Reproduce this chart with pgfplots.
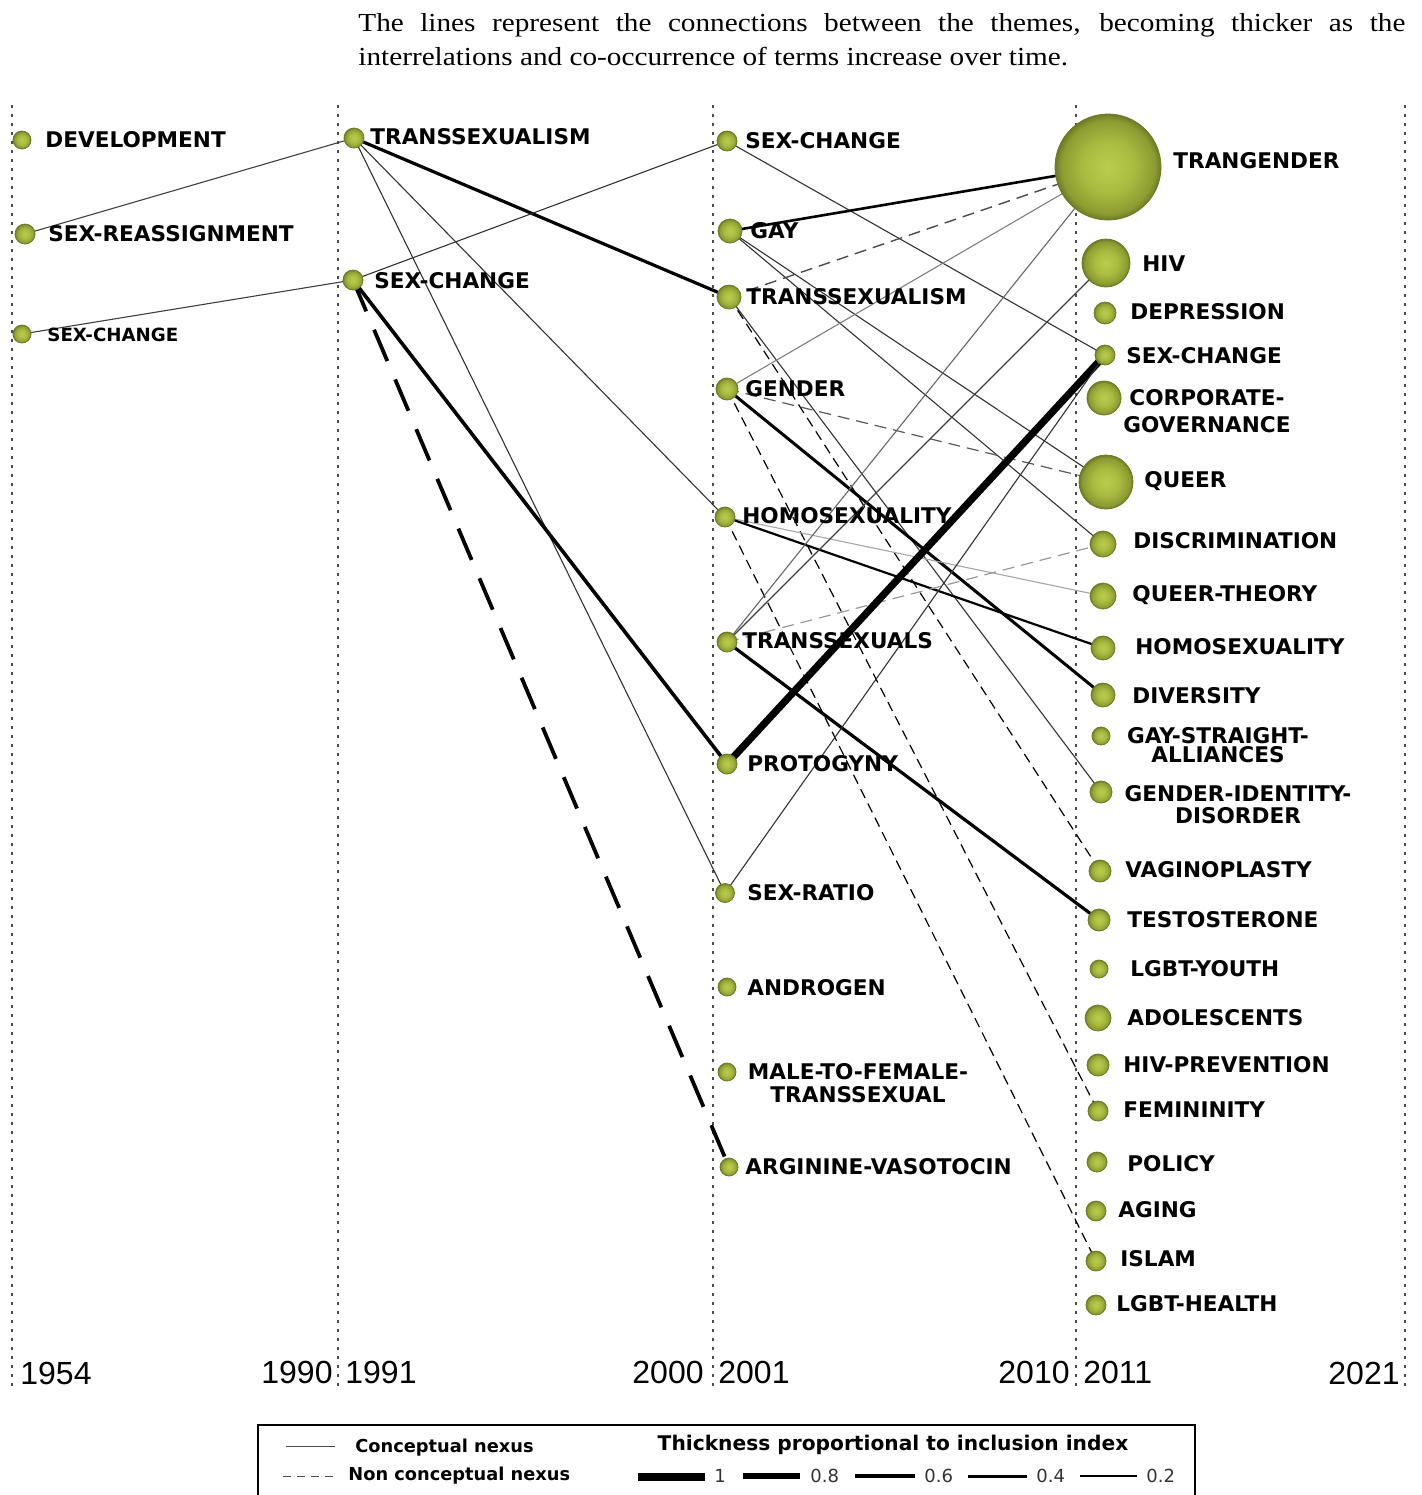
\documentclass[border=0pt]{standalone}
\usepackage{pgfplots}
\pgfplotsset{compat=1.18}
\usepackage{fontspec}
\setmainfont{Liberation Serif}
\newfontfamily\capfont[FakeStretch=1.125]{Liberation Serif}
\newfontfamily\lab{DejaVu Sans}
\newfontfamily\yr{Liberation Sans}

\definecolor{olc}{HTML}{BACD4E}
\definecolor{olm}{HTML}{A9BC41}
\definecolor{old}{HTML}{8C9C31}
\definecolor{ole}{HTML}{6E7A26}

\pgfdeclareradialshading{oliveball}{\pgfpoint{0bp}{0bp}}{color(0bp)=(olc); color(12bp)=(olm); color(22bp)=(old); color(25bp)=(ole); color(50bp)=(ole)}

\pgfdeclareplotmark{oball}{%
  \pgfpathcircle{\pgfpointorigin}{\pgfplotmarksize}%
  \pgfshadepath{oliveball}{0}%
  \pgfusepath{discard}%
  \pgfpathcircle{\pgfpointorigin}{\pgfplotmarksize}%
  \pgfusepath{stroke}}

\tikzset{
  thin1/.style={line width=0.55pt, color=black!80},
  dsh/.style={line width=0.6pt, dash pattern=on 5pt off 3pt},
  dot/.style={line width=1.3pt, color=black!70, dash pattern=on 1.3pt off 3.2pt},
  lbl/.style={anchor=west, inner sep=0pt, font=\lab\bfseries\fontsize{10.8}{13}\selectfont},
  yrl/.style={inner sep=0pt, font=\yr\fontsize{16}{16}\selectfont},
}

\pgfplotstableread{
x y r
22 140 9
25 234 10
22 334 9
354 138 10
353 280 10
727 141 10
730 231 12
729 297 12
727 389 11
725 517 10
727 642 10
727 764 10
725 893 9.5
727 987 9
727 1072 9
729 1167 9
1108 167 53
1106 263 24
1105 313 11
1105 355 10
1104 398 17
1106 482 27
1103 544 13
1103 596 13
1103 648 12
1103 695 12
1101 736 9
1101 792 11
1100 871 11
1099 920 11
1099 969 9
1098 1018 13
1098 1065 11
1098 1111 10
1097 1162 10
1096 1211 10
1096 1261 10
1096 1305 10
}\nodestable

\begin{document}
\begin{tikzpicture}
\begin{axis}[name=ax, at={(0,0)}, anchor=south west,
  width=710.5pt, height=747.5pt, scale only axis,
  xmin=0, xmax=1421, ymin=0, ymax=1495, y dir=reverse,
  hide axis, clip=false]

% period separators
\draw[dot] (axis cs:12,105) -- (axis cs:12,1390);
\draw[dot] (axis cs:338,105) -- (axis cs:338,1390);
\draw[dot] (axis cs:713,105) -- (axis cs:713,1390);
\draw[dot] (axis cs:1076,105) -- (axis cs:1076,1390);
\draw[dot] (axis cs:1405,105) -- (axis cs:1405,1390);

% 1954-1990 -> 1991-2000
\addplot[thin1, black!75] coordinates {(25,234) (354,138)};
\addplot[thin1, black!75] coordinates {(22,334) (353,280)};
% 1991-2000 -> 2001-2010
\addplot[line width=1.6pt, black] coordinates {(354,138) (729,297)};
\addplot[thin1] coordinates {(354,138) (725,517)};
\addplot[thin1] coordinates {(354,138) (725,893)};
\addplot[thin1] coordinates {(353,280) (727,141)};
\addplot[line width=1.8pt, black] coordinates {(353,280) (727,764)};
\addplot[line width=1.9pt, black, dash pattern=on 17pt off 10pt] coordinates {(353,280) (729,1167)};
% 2001-2010 -> 2011-2021
\addplot[thin1] coordinates {(727,141) (1105,355)};
\addplot[line width=1.3pt, black] coordinates {(730,231) (1108,167)};
\addplot[thin1] coordinates {(730,231) (1106,482)};
\addplot[thin1] coordinates {(730,231) (1103,544)};
\addplot[dsh, black!70, line width=0.7pt, dash pattern=on 6pt off 3.5pt] coordinates {(729,297) (1108,167)};
\addplot[thin1] coordinates {(729,297) (1101,792)};
\addplot[dsh, black] coordinates {(729,297) (1100,871)};
\addplot[thin1, black!50] coordinates {(727,389) (1108,167)};
\addplot[dsh, black!65, dash pattern=on 6pt off 3.5pt] coordinates {(727,389) (1106,482)};
\addplot[line width=1.5pt, black] coordinates {(727,389) (1103,695)};
\addplot[dsh, black] coordinates {(727,389) (1098,1111)};
\addplot[thin1, black!35] coordinates {(725,517) (1103,596)};
\addplot[line width=1.1pt, black] coordinates {(725,517) (1103,648)};
\addplot[dsh, black] coordinates {(725,517) (1096,1261)};
\addplot[thin1, black!60] coordinates {(727,642) (1108,167)};
\addplot[thin1, black!75] coordinates {(727,642) (1106,263)};
\addplot[dsh, black!40, dash pattern=on 6pt off 3.5pt] coordinates {(727,642) (1103,544)};
\addplot[line width=1.6pt, black] coordinates {(727,642) (1099,920)};
\addplot[line width=3.6pt, black] coordinates {(727,764) (1105,355)};
\addplot[thin1] coordinates {(725,893) (1105,355)};

% theme nodes
\addplot[only marks, scatter, mark=oball,
  scatter/use mapped color={draw=ole},
  visualization depends on={0.5*\thisrow{r} \as \rad},
  scatter/@pre marker code/.append style={/tikz/mark size=\rad},
  mark options={line width=0.4pt}]
  table[x=x, y=y] {\nodestable};

% labels 1954-1990
\node[lbl] at (axis cs:45,140) {DEVELOPMENT};
\node[lbl] at (axis cs:48,234) {SEX-REASSIGNMENT};
\node[lbl, font=\lab\bfseries\fontsize{9.1}{11}\selectfont] at (axis cs:47,335) {SEX-CHANGE};
% 1991-2000
\node[lbl] at (axis cs:370,137) {TRANSSEXUALISM};
\node[lbl] at (axis cs:374,281) {SEX-CHANGE};
% 2001-2010
\node[lbl] at (axis cs:745,141) {SEX-CHANGE};
\node[lbl] at (axis cs:750,231) {GAY};
\node[lbl] at (axis cs:746,297) {TRANSSEXUALISM};
\node[lbl] at (axis cs:745,389) {GENDER};
\node[lbl] at (axis cs:742,516) {HOMOSEXUALITY};
\node[lbl] at (axis cs:742,641) {TRANSSEXUALS};
\node[lbl] at (axis cs:747,764) {PROTOGYNY};
\node[lbl] at (axis cs:747,893) {SEX-RATIO};
\node[lbl] at (axis cs:747,988) {ANDROGEN};
\node[lbl, anchor=center, align=center, font=\lab\bfseries\fontsize{10.8}{11.5}\selectfont] at (axis cs:858,1083.5) {MALE-TO-FEMALE-\\TRANSSEXUAL};
\node[lbl] at (axis cs:745,1167) {ARGININE-VASOTOCIN};
% 2011-2021
\node[lbl] at (axis cs:1173,161) {TRANGENDER};
\node[lbl] at (axis cs:1142,264) {HIV};
\node[lbl] at (axis cs:1130,312) {DEPRESSION};
\node[lbl] at (axis cs:1126,356) {SEX-CHANGE};
\node[lbl, anchor=center, align=center, font=\lab\bfseries\fontsize{10.8}{13.5}\selectfont] at (axis cs:1207,411.5) {CORPORATE-\\GOVERNANCE};
\node[lbl] at (axis cs:1144,481) {QUEER};
\node[lbl] at (axis cs:1133,541) {DISCRIMINATION};
\node[lbl] at (axis cs:1132,595) {QUEER-THEORY};
\node[lbl] at (axis cs:1135,647) {HOMOSEXUALITY};
\node[lbl] at (axis cs:1132,696) {DIVERSITY};
\node[lbl, anchor=center, align=center, font=\lab\bfseries\fontsize{10.8}{9.5}\selectfont] at (axis cs:1218,745.5) {GAY-STRAIGHT-\\ALLIANCES};
\node[lbl, anchor=center, align=center, font=\lab\bfseries\fontsize{10.8}{11}\selectfont] at (axis cs:1238,805) {GENDER-IDENTITY-\\DISORDER};
\node[lbl] at (axis cs:1125,870) {VAGINOPLASTY};
\node[lbl] at (axis cs:1127,920) {TESTOSTERONE};
\node[lbl] at (axis cs:1130,969) {LGBT-YOUTH};
\node[lbl] at (axis cs:1127,1018) {ADOLESCENTS};
\node[lbl] at (axis cs:1123,1065) {HIV-PREVENTION};
\node[lbl] at (axis cs:1123,1110) {FEMININITY};
\node[lbl] at (axis cs:1127,1164) {POLICY};
\node[lbl] at (axis cs:1118,1210) {AGING};
\node[lbl] at (axis cs:1120,1259) {ISLAM};
\node[lbl] at (axis cs:1116,1304) {LGBT-HEALTH};

% years
\node[yrl, anchor=west] at (axis cs:20,1373) {1954};
\node[yrl, anchor=east] at (axis cs:333,1372) {1990};
\node[yrl, anchor=west] at (axis cs:345,1372) {1991};
\node[yrl, anchor=east] at (axis cs:704,1372) {2000};
\node[yrl, anchor=west] at (axis cs:718,1372) {2001};
\node[yrl, anchor=east] at (axis cs:1070,1372) {2010};
\node[yrl, anchor=west] at (axis cs:1083,1372) {2011};
\node[yrl, anchor=east] at (axis cs:1400,1373) {2021};

% caption text
\node[anchor=north west, inner sep=0pt, text width=523.5pt, align=justify,
  font=\capfont\fontsize{13}{17}\selectfont] at (axis cs:358,13)
  {The lines represent the connections between the themes, becoming thicker as the\linebreak interrelations and co-occurrence of terms increase over time.};

% legend
\draw[line width=1.2pt] (axis cs:258,1530) -- (axis cs:258,1425) -- (axis cs:1195,1425) -- (axis cs:1195,1530);
\draw[line width=0.5pt, black!70] (axis cs:286,1446) -- (axis cs:335,1446);
\draw[line width=0.5pt, black!70, dash pattern=on 4pt off 3pt] (axis cs:283,1476) -- (axis cs:335,1476);
\node[anchor=west, inner sep=0pt, font=\lab\bfseries\fontsize{8.9}{10}\selectfont] at (axis cs:355,1448) {Conceptual nexus};
\node[anchor=west, inner sep=0pt, font=\lab\bfseries\fontsize{8.9}{10}\selectfont] at (axis cs:348,1476) {Non conceptual nexus};
\node[anchor=center, inner sep=0pt, font=\lab\bfseries\fontsize{10.1}{12}\selectfont] at (axis cs:893,1445) {Thickness proportional to inclusion index};
\draw[line width=4pt] (axis cs:638,1477) -- (axis cs:705,1477);
\draw[line width=3pt] (axis cs:743,1476) -- (axis cs:800,1476);
\draw[line width=2.2pt] (axis cs:855,1476) -- (axis cs:915,1476);
\draw[line width=1.5pt] (axis cs:968,1476) -- (axis cs:1027,1476);
\draw[line width=1pt] (axis cs:1080,1476) -- (axis cs:1137,1476);
\tikzset{lg/.style={anchor=west, inner sep=0pt, text=black!80, font=\lab\fontsize{9}{10}\selectfont}}
\node[lg] at (axis cs:714,1476) {1};
\node[lg] at (axis cs:810,1476) {0.8};
\node[lg] at (axis cs:924,1476) {0.6};
\node[lg] at (axis cs:1036,1476) {0.4};
\node[lg] at (axis cs:1146,1476) {0.2};
\end{axis}
\pgfresetboundingbox
\useasboundingbox (0,0) rectangle (710.5pt,747.5pt);
\end{tikzpicture}
\end{document}
